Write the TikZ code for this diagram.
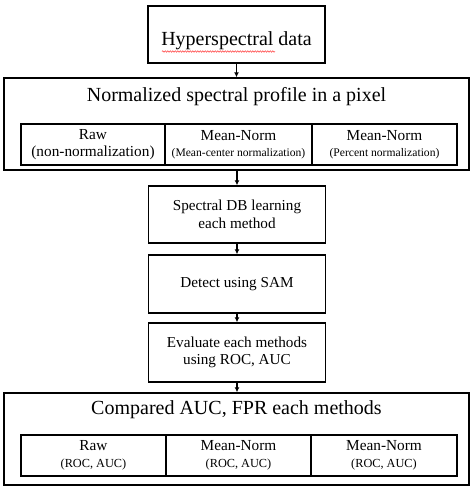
\documentclass[tikz,border=0pt]{standalone}
\usepackage{fontspec}
\setmainfont{Liberation Serif}
\usetikzlibrary{arrows.meta,decorations.pathmorphing}
\begin{document}
\begin{tikzpicture}[x=1pt,y=-1pt,
  box/.style={draw=black,line width=1.5pt,rectangle,inner sep=0pt},
  subbox/.style={draw=black,line width=1.5pt,rectangle,inner sep=0pt,align=center,font=\fontsize{15.3}{16.5}\selectfont},
  big/.style={font=\fontsize{20}{24}\selectfont},
  mid/.style={font=\fontsize{15.2}{17.5}\selectfont,align=center},
  arr/.style={-{Latex[length=5pt,width=5pt]},line width=1.4pt}]
\useasboundingbox (0,0) rectangle (474,488);
% box 1
\node[box,minimum width=177pt,minimum height=57pt] (b1) at (236.5,34.5) {};
\node[big,inner sep=0pt] (t1) at (236.5,41) {Hyperspectral data};
\coordinate (sq1) at (162,51.5);
\coordinate (sq2) at (275,51.5);
\draw[red!80!white,line width=0.5pt,decorate,decoration={snake,amplitude=0.7pt,segment length=2.5pt}] (sq1) -- (sq2);
% box 2
\node[box,minimum width=465pt,minimum height=92pt] (b2) at (236.5,124) {};
\node[big,inner sep=0pt] (t2) at (236.5,97) {Normalized spectral profile in a pixel};
\node[subbox,minimum width=144pt,minimum height=41pt] (s1) at (93,144.5) {Raw\\(non-normalization)};
\node[subbox,minimum width=147pt,minimum height=41pt] (s2) at (238.5,144.5) {Mean-Norm\\{\fontsize{11.6}{13}\selectfont (Mean-center normalization)}};
\node[subbox,minimum width=145pt,minimum height=41pt] (s3) at (384.5,144.5) {Mean-Norm\\{\fontsize{11.6}{13}\selectfont (Percent normalization)}};
% middle boxes
\node[box,mid,minimum width=177pt,minimum height=57pt] (b3) at (237,214.5) {Spectral DB learning\\each method};
\node[box,mid,minimum width=177pt,minimum height=58pt] (b4) at (237,284) {Detect using SAM};
\node[box,mid,minimum width=177pt,minimum height=59pt] (b5) at (237,352.5) {Evaluate each methods\\using ROC, AUC};
% box 6
\node[box,minimum width=465pt,minimum height=92pt] (b6) at (236.5,439) {};
\node[big,inner sep=0pt] (t6) at (236.5,410) {Compared AUC, FPR each methods};
\node[subbox,minimum width=145pt,minimum height=41pt] (r1) at (93.5,455.5) {Raw\\{\fontsize{12.3}{13}\selectfont (ROC, AUC)}};
\node[subbox,minimum width=145pt,minimum height=41pt] (r2) at (238.5,455.5) {Mean-Norm\\{\fontsize{12.3}{13}\selectfont (ROC, AUC)}};
\node[subbox,minimum width=146pt,minimum height=41pt] (r3) at (384,455.5) {Mean-Norm\\{\fontsize{12.3}{13}\selectfont (ROC, AUC)}};
% arrows
\draw[arr] (b1.south) -- (b1.south |- b2.north);
\draw[arr] (b2.south -| b3.north) -- (b3.north);
\draw[arr] (b3.south) -- (b4.north);
\draw[arr] (b4.south) -- (b5.north);
\draw[arr] (b5.south) -- (b5.south |- b6.north);
\end{tikzpicture}
\end{document}
